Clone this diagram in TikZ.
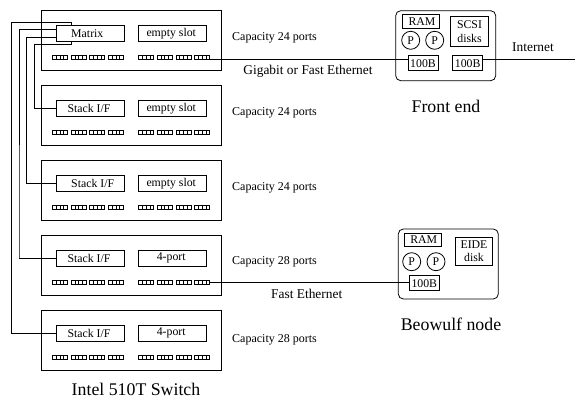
\documentclass[tikz,border=0pt]{standalone}
\usepackage{fontspec}
\setmainfont{Liberation Serif}
\usetikzlibrary{calc}
\tikzset{
  box/.style={rectangle, draw=black, fill=white, line width=0.8pt, inner sep=0pt, outer sep=0pt, align=center},
  switchbox/.style={box, fill=none, minimum width=180pt, minimum height=60pt},
  slotbox/.style={box, minimum width=68pt, minimum height=15.5pt, font=\fontsize{11.8}{13}\selectfont},
  hostbox/.style={box, fill=none, rounded corners=5pt, minimum width=100pt, minimum height=70pt},
  nicbox/.style={box, minimum width=30pt, minimum height=15pt, font=\fontsize{11.8}{13}\selectfont},
  rambox/.style={box, minimum width=36.5pt, minimum height=13.6pt, font=\fontsize{11.8}{13}\selectfont},
  diskbox/.style={box, minimum width=37.5pt, minimum height=30pt, font=\fontsize{11.8}{13.5}\selectfont},
  cpu/.style={circle, draw=black, line width=0.8pt, minimum size=18pt, inner sep=0pt, outer sep=0pt, font=\fontsize{11.8}{13}\selectfont},
  portgroup/.style={rectangle, draw=black, line width=0.5pt, minimum width=15pt, minimum height=4pt, inner sep=0pt, outer sep=0pt,
    path picture={\foreach \k in {1,2,3} \draw[line width=0.5pt] ([xshift=\k*3.75pt]path picture bounding box.north west) -- ([xshift=\k*3.75pt]path picture bounding box.south west);}},
  lbl/.style={inner sep=0pt, font=\fontsize{12}{13}\selectfont},
  netlbl/.style={inner sep=0pt, font=\fontsize{13.4}{15}\selectfont},
  caption/.style={inner sep=0pt, font=\fontsize{17.8}{20}\selectfont},
  wire/.style={draw=black, line width=0.8pt},
}
\begin{document}
\begin{tikzpicture}[x=1pt,y=-1pt]
\useasboundingbox (0,0) rectangle (575,398);
% switch stack
\foreach \n/\y/\slotl/\nudge/\slotr/\cap/\capy in {1/10.7/Matrix/-5.4/empty slot/24/37.5, 2/85.7/Stack I\slash F/-2/empty slot/24/112.5,
    3/160.7/Stack I\slash F/5.4/empty slot/24/187.5, 4/235.7/Stack I\slash F/-2/4-port/28/262, 5/310.7/Stack I\slash F/-2/4-port/28/340}{
  \node[switchbox] (sw\n) at (131,\y+30) {};
  \node[slotbox] (slotl\n) at (90,\y+22.5) {\hspace*{\nudge pt}\slotl};
  \node[slotbox] (slotr\n) at (172.5,\y+22.5) {\hspace*{-2.5pt}\slotr};
  \foreach \g in {1,2,3,4}{
    \node[portgroup] (pl\n\g) at (59.8+18.7*\g-18.7,\y+46.9) {};
    \node[portgroup] (pr\n\g) at (146+18.7*\g-18.7,\y+46.9) {};
  }
  \node[lbl, anchor=west] (cap\n) at (232,\capy) {Capacity \cap\ ports};
}
\node[caption] (swname) at (136,389.5) {Intel 510T Switch};

% front end
\node[hostbox] (fe) at (445.7,45.7) {};
\node[rambox] (feram) at (421,21.5) {\hspace{2pt}RAM};
\node[cpu] (fep1) at (410.7,40.3) {P};
\node[cpu] (fep2) at (434.7,40.3) {P};
\node[diskbox] (fedisk) at (469.5,31.7) {SCSI\\disks};
\node[nicbox] (fenic1) at (423,63.2) {100B};
\node[nicbox] (fenic2) at (467.7,63.2) {100B};
\node[caption] (fename) at (446,106) {Front end};

% compute node
\node[hostbox] (bw) at (448.3,264) {};
\node[rambox] (bwram) at (422.7,240) {\hspace{2pt}RAM};
\node[cpu] (bwp1) at (411.7,261.7) {P};
\node[cpu] (bwp2) at (436,261.7) {P};
\node[diskbox, minimum height=28pt] (bwdisk) at (474,251) {EIDE\\disk};
\node[nicbox] (bwnic) at (424.3,283.3) {100B};
\node[caption] (bwname) at (451,324) {Beowulf node};

% stacking cables
\draw[wire] ($(slotl1.north west)+(15.7,0)$) -- +(0,-3.2) -| (11.7,332.3) |- (slotl5.west);
\draw[wire] ($(slotl1.west)+(0,-3.5)$) -| (19,257.7) |- (slotl4.west);
\draw[wire] ($(slotl1.west)+(0,4.1)$) -| (26.3,183.2) |- (slotl3.west);
\draw[wire] ($(slotl1.south west)+(15.7,0)$) -- +(0,3.3) -| (34.3,108.2) |- (slotl2.west);

% uplinks
\coordinate (inet) at (575,59.5);
\draw[wire] (pr14.south east) -- (pr14.south east -| fenic1.west);
\draw[wire] (fenic2.east |- inet) -- (inet);
\draw[wire] (pr44.east) -- (pr44.east -| bwnic.west);
\node[netlbl] (gig) at (308,71.5) {Gigabit or Fast Ethernet};
\node[netlbl] (inetlbl) at (533,47.5) {Internet};
\node[netlbl] (fast) at (306.7,293.5) {Fast Ethernet};
\end{tikzpicture}
\end{document}
